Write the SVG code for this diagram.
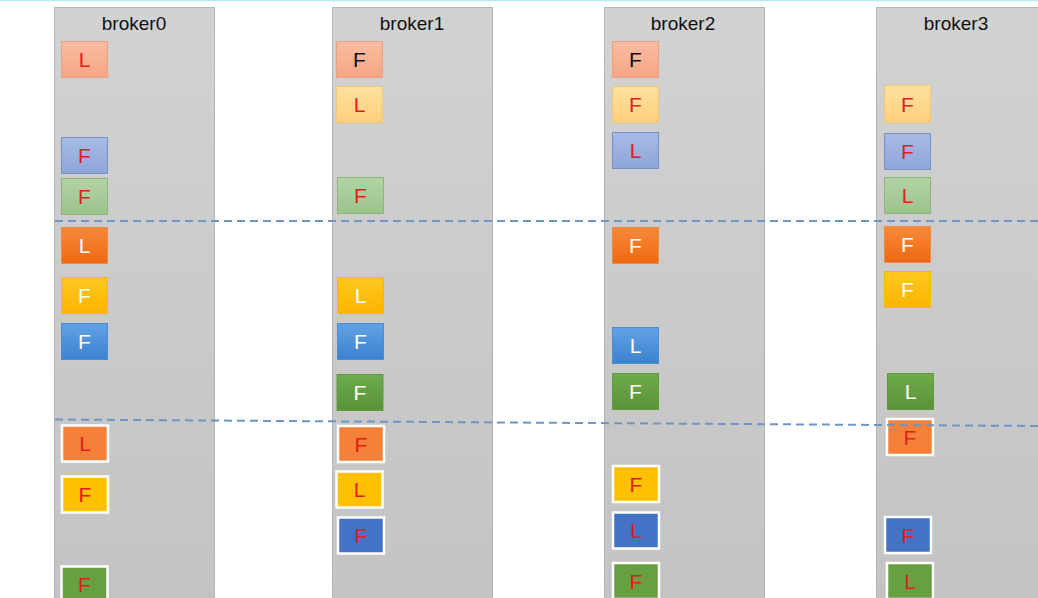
<svg xmlns="http://www.w3.org/2000/svg" width="1038" height="598" viewBox="0 0 1038 598">
<defs>
<linearGradient id="gCol" x1="0" y1="0" x2="0" y2="1"><stop offset="0" stop-color="#d2d2d2"/><stop offset="1" stop-color="#c3c3c3"/></linearGradient>
<linearGradient id="gOr" x1="0" y1="0" x2="0" y2="1"><stop offset="0" stop-color="#f7893a"/><stop offset="1" stop-color="#ee6812"/></linearGradient>
<linearGradient id="gYe" x1="0" y1="0" x2="0" y2="1"><stop offset="0" stop-color="#ffc820"/><stop offset="1" stop-color="#fbb400"/></linearGradient>
<linearGradient id="gBl" x1="0" y1="0" x2="0" y2="1"><stop offset="0" stop-color="#62a2e6"/><stop offset="1" stop-color="#3b82cf"/></linearGradient>
<linearGradient id="gGr" x1="0" y1="0" x2="0" y2="1"><stop offset="0" stop-color="#6dab4c"/><stop offset="1" stop-color="#5a933a"/></linearGradient>
<linearGradient id="gSa" x1="0" y1="0" x2="0" y2="1"><stop offset="0" stop-color="#fbbca0"/><stop offset="1" stop-color="#f6a584"/></linearGradient>
<linearGradient id="gLy" x1="0" y1="0" x2="0" y2="1"><stop offset="0" stop-color="#ffe0a0"/><stop offset="1" stop-color="#ffd07a"/></linearGradient>
<linearGradient id="gLb" x1="0" y1="0" x2="0" y2="1"><stop offset="0" stop-color="#a6bbe6"/><stop offset="1" stop-color="#8ea6d8"/></linearGradient>
<linearGradient id="gLg" x1="0" y1="0" x2="0" y2="1"><stop offset="0" stop-color="#b3d3a6"/><stop offset="1" stop-color="#9cc38c"/></linearGradient>
</defs>
<style>
.col{fill:url(#gCol);stroke:#b5b5b5;stroke-width:1}
.title{font-family:"Liberation Sans",Arial,sans-serif;font-size:19px;fill:#111;text-anchor:middle}
.lt{font-family:"Liberation Sans",Arial,sans-serif;font-size:21px;text-anchor:middle;dominant-baseline:central}
.r{fill:#e0201a}.w{fill:#ffffff}.k{fill:#111111}
.sa{fill:url(#gSa);stroke:#eaa083;stroke-width:1}
.ly{fill:url(#gLy);stroke:#f0c873;stroke-width:1}
.lb{fill:url(#gLb);stroke:#7690c4;stroke-width:1}
.lg{fill:url(#gLg);stroke:#8db47d;stroke-width:1}
.or{fill:url(#gOr);stroke:#f08a40;stroke-width:1}
.ye{fill:url(#gYe);stroke:#f5b800;stroke-width:1}
.bl{fill:url(#gBl);stroke:#4a8ed4;stroke-width:1}
.gr{fill:url(#gGr);stroke:#5e9a40;stroke-width:1}
.wor{fill:#f4803a;stroke:#ffffff;stroke-width:2.5}
.wye{fill:#ffc000;stroke:#ffffff;stroke-width:2.5}
.wdb{fill:#4472c4;stroke:#ffffff;stroke-width:2.5}
.wgr{fill:#67a043;stroke:#ffffff;stroke-width:2.5}
.dash{fill:none;stroke:#6e95c6;stroke-width:2;stroke-dasharray:8 5}
</style>
<rect x="0" y="0" width="1038" height="598" fill="#ffffff"/>
<line x1="0" y1="0.5" x2="1038" y2="0.5" stroke="#b4ecf2" stroke-width="1.5"/>

<g id="broker0">
<rect class="col" x="54.5" y="7.5" width="160" height="595"/>
<text class="title" x="134" y="30">broker0</text>
<g id="b0-1"><rect class="sa" x="61.5" y="41.5" width="46" height="36"/><text class="lt r" x="84.5" y="59.5">L</text></g>
<g id="b0-2"><rect class="lb" x="61.5" y="137.5" width="46" height="36"/><text class="lt r" x="84.5" y="155.5">F</text></g>
<g id="b0-3"><rect class="lg" x="61.5" y="178.5" width="46" height="36"/><text class="lt r" x="84.5" y="196.5">F</text></g>
<g id="b0-4"><rect class="or" x="61.5" y="227.5" width="46" height="36"/><text class="lt w" x="84.5" y="245.5">L</text></g>
<g id="b0-5"><rect class="ye" x="61.5" y="277.5" width="46" height="36"/><text class="lt w" x="84.5" y="295.5">F</text></g>
<g id="b0-6"><rect class="bl" x="61.5" y="323.5" width="46" height="36"/><text class="lt w" x="84.5" y="341.5">F</text></g>
<g id="b0-7"><rect class="wor" x="62" y="425.5" width="46" height="36"/><text class="lt r" x="85" y="443.5">L</text></g>
<g id="b0-8"><rect class="wye" x="62" y="476.5" width="46" height="36"/><text class="lt r" x="85" y="494.5">F</text></g>
<g id="b0-9"><rect class="wgr" x="61.5" y="566.5" width="46" height="36"/><text class="lt r" x="84.5" y="584.5">F</text></g>
</g>

<g id="broker1">
<rect class="col" x="332.5" y="7.5" width="160" height="595"/>
<text class="title" x="412" y="30">broker1</text>
<g id="b1-1"><rect class="sa" x="336.5" y="41.5" width="46" height="36"/><text class="lt k" x="359.5" y="59.5">F</text></g>
<g id="b1-2"><rect class="ly" x="336.5" y="86.5" width="46" height="36"/><text class="lt r" x="359.5" y="104.5">L</text></g>
<g id="b1-3"><rect class="lg" x="337.5" y="177.5" width="46" height="36"/><text class="lt r" x="360.5" y="195.5">F</text></g>
<g id="b1-4"><rect class="ye" x="337.5" y="277.5" width="46" height="36"/><text class="lt w" x="360.5" y="295.5">L</text></g>
<g id="b1-5"><rect class="bl" x="337.5" y="323.5" width="46" height="36"/><text class="lt w" x="360.5" y="341.5">F</text></g>
<g id="b1-6"><rect class="gr" x="337" y="374.5" width="46" height="36"/><text class="lt w" x="360" y="392.5">F</text></g>
<g id="b1-7"><rect class="wor" x="338" y="426" width="46" height="36"/><text class="lt r" x="361" y="444">F</text></g>
<g id="b1-8"><rect class="wye" x="336.5" y="471.5" width="46" height="36"/><text class="lt r" x="359.5" y="489.5">L</text></g>
<g id="b1-9"><rect class="wdb" x="338" y="517.5" width="46" height="36"/><text class="lt r" x="361" y="535.5">F</text></g>
</g>

<g id="broker2">
<rect class="col" x="604.5" y="7.5" width="160" height="595"/>
<text class="title" x="683" y="30">broker2</text>
<g id="b2-1"><rect class="sa" x="612.5" y="41.5" width="46" height="36"/><text class="lt k" x="635.5" y="59.5">F</text></g>
<g id="b2-2"><rect class="ly" x="612.5" y="86.5" width="46" height="36"/><text class="lt r" x="635.5" y="104.5">F</text></g>
<g id="b2-3"><rect class="lb" x="612.5" y="132.5" width="46" height="36"/><text class="lt r" x="635.5" y="150.5">L</text></g>
<g id="b2-4"><rect class="or" x="612.5" y="227.5" width="46" height="36"/><text class="lt w" x="635.5" y="245.5">F</text></g>
<g id="b2-5"><rect class="bl" x="612.5" y="327.5" width="46" height="36"/><text class="lt w" x="635.5" y="345.5">L</text></g>
<g id="b2-6"><rect class="gr" x="612.5" y="373.5" width="46" height="36"/><text class="lt w" x="635.5" y="391.5">F</text></g>
<g id="b2-7"><rect class="wye" x="613" y="466" width="46" height="36"/><text class="lt r" x="636" y="484">F</text></g>
<g id="b2-8"><rect class="wdb" x="613" y="512.5" width="46" height="36"/><text class="lt r" x="636" y="530.5">L</text></g>
<g id="b2-9"><rect class="wgr" x="613" y="563" width="46" height="36"/><text class="lt r" x="636" y="581">F</text></g>
</g>

<g id="broker3">
<rect class="col" x="876.5" y="7.5" width="162" height="595"/>
<text class="title" x="956" y="30">broker3</text>
<g id="b3-1"><rect class="ly" x="884.5" y="85.5" width="46" height="37"/><text class="lt r" x="907.5" y="104">F</text></g>
<g id="b3-2"><rect class="lb" x="884.5" y="133.5" width="46" height="36"/><text class="lt r" x="907.5" y="151.5">F</text></g>
<g id="b3-3"><rect class="lg" x="884.5" y="177.5" width="46" height="36"/><text class="lt r" x="907.5" y="195.5">L</text></g>
<g id="b3-4"><rect class="or" x="884.5" y="226.5" width="46" height="36"/><text class="lt w" x="907.5" y="244.5">F</text></g>
<g id="b3-5"><rect class="ye" x="884.5" y="271.5" width="46" height="36"/><text class="lt w" x="907.5" y="289.5">F</text></g>
<g id="b3-6"><rect class="gr" x="887.5" y="373.5" width="46" height="36"/><text class="lt w" x="910.5" y="391.5">L</text></g>
<g id="b3-7"><rect class="wor" x="887" y="419" width="46" height="36"/><text class="lt r" x="910" y="437">F</text></g>
<g id="b3-8"><rect class="wdb" x="885" y="517" width="46" height="36"/><text class="lt r" x="908" y="535">F</text></g>
<g id="b3-9"><rect class="wgr" x="887" y="563" width="46" height="36"/><text class="lt r" x="910" y="581">L</text></g>
</g>

<g id="connectors">
<line class="dash" x1="55" y1="221" x2="1038" y2="221"/>
<line class="dash" x1="55" y1="419.5" x2="1038" y2="426"/>
</g>
</svg>
